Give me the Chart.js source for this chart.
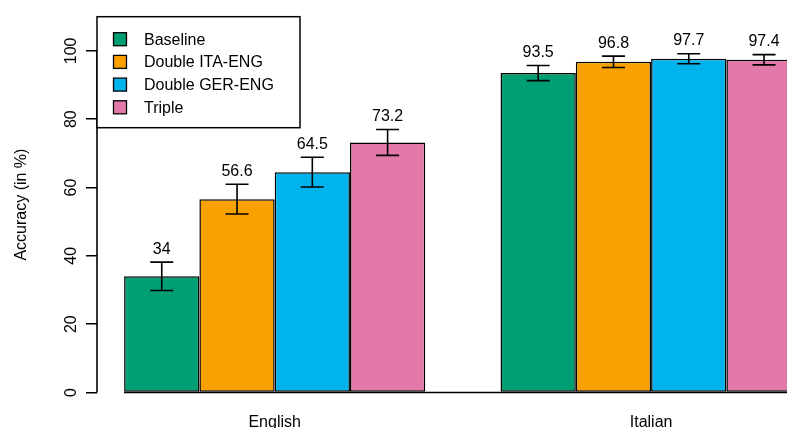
<!DOCTYPE html>
<html>
<head>
<meta charset="utf-8">
<script src="https://cdn.jsdelivr.net/npm/chart.js@4.4.1/dist/chart.umd.min.js"></script>
<style>
  html, body { margin: 0; padding: 0; background: #ffffff; }
  #wrap { width: 787px; height: 428px; }
</style>
</head>
<body>
<div id="wrap"><canvas id="c" width="787" height="428"></canvas></div>
<script>
// Accuracy per language and model, with error margins
const categories = ['English', 'Italian'];
const seriesNames = ['Baseline', 'Double ITA-ENG', 'Double GER-ENG', 'Triple'];
const baseline = [34, 93.5];
const doubleItaEng = [56.6, 96.8];
const doubleGerEng = [64.5, 97.7];
const triple = [73.2, 97.4];
const baselineErr = [4.15, 2.2];
const doubleItaEngErr = [4.35, 1.65];
const doubleGerEngErr = [4.35, 1.45];
const tripleErr = [3.8, 1.5];
const yTicks = [0, 20, 40, 60, 80, 100];
const seriesColors = ['#009E73', '#F9A100', '#00B3EC', '#E279A9'];

const FONT = "'Liberation Sans', Arial, sans-serif";
const seriesValues = [baseline, doubleItaEng, doubleGerEng, triple];
const seriesErrors = [baselineErr, doubleItaEngErr, doubleGerEngErr, tripleErr];

// each group spans four bar slots plus one slot of gap before it
const groupCenter = i => 3 + 5 * i;

const datasets = seriesNames.map((name, s) => ({
  label: name,
  data: categories.map((c, i) => ({ x: groupCenter(i), y: seriesValues[s][i] })),
  errors: seriesErrors[s],
  backgroundColor: seriesColors[s],
  borderColor: '#000000',
  borderWidth: 1.5,
  borderSkipped: false,
  categoryPercentage: 0.8,
  barPercentage: 1.0
}));

const decorations = {
  id: 'decorations',
  afterDatasetsDraw(chart) {
    const ctx = chart.ctx;
    const y = chart.scales.y;
    const area = chart.chartArea;
    ctx.save();
    ctx.strokeStyle = '#000000';
    ctx.fillStyle = '#000000';
    ctx.lineWidth = 1.6;

    // baseline under the bars
    const first = chart.getDatasetMeta(0).data[0];
    const y0 = y.getPixelForValue(0);
    ctx.beginPath();
    ctx.moveTo(first.x - first.width / 2, y0);
    ctx.lineTo(area.right, y0);
    ctx.stroke();

    // error bars and value labels
    ctx.font = '16px ' + FONT;
    ctx.textAlign = 'center';
    ctx.textBaseline = 'alphabetic';
    chart.data.datasets.forEach((ds, s) => {
      const meta = chart.getDatasetMeta(s);
      meta.data.forEach((bar, i) => {
        const v = ds.data[i].y;
        const e = ds.errors[i];
        const yt = y.getPixelForValue(v + e);
        const yb = y.getPixelForValue(v - e);
        const cap = 11.5;
        ctx.beginPath();
        ctx.moveTo(bar.x, yt); ctx.lineTo(bar.x, yb);
        ctx.moveTo(bar.x - cap, yt); ctx.lineTo(bar.x + cap, yt);
        ctx.moveTo(bar.x - cap, yb); ctx.lineTo(bar.x + cap, yb);
        ctx.stroke();
        ctx.fillText(String(v), bar.x, yt - 8.5);
      });
    });

    // y axis line spanning the tick range
    ctx.beginPath();
    ctx.moveTo(area.left, y.getPixelForValue(yTicks[0]));
    ctx.lineTo(area.left, y.getPixelForValue(yTicks[yTicks.length - 1]));
    ctx.stroke();

    // legend box in the top-left corner
    const lx = area.left, ly = area.top;
    ctx.lineWidth = 1.5;
    ctx.fillStyle = '#ffffff';
    ctx.fillRect(lx, ly, 203, 111);
    ctx.strokeRect(lx, ly, 203, 111);
    ctx.textAlign = 'left';
    ctx.textBaseline = 'middle';
    chart.data.datasets.forEach((ds, s) => {
      const cy = ly + 22.5 + 22.7 * s;
      ctx.fillStyle = ds.backgroundColor;
      ctx.fillRect(lx + 16.5, cy - 6.5, 13, 13);
      ctx.lineWidth = 1.3;
      ctx.strokeRect(lx + 16.5, cy - 6.5, 13, 13);
      ctx.fillStyle = '#000000';
      ctx.fillText(ds.label, lx + 47, cy + 1);
    });
    ctx.restore();
  }
};

new Chart(document.getElementById('c'), {
  type: 'bar',
  data: { datasets },
  options: {
    responsive: false,
    animation: false,
    devicePixelRatio: 1,
    layout: { padding: { top: 16.7, left: 0, right: 0, bottom: 0 } },
    plugins: { legend: { display: false }, tooltip: { enabled: false } },
    scales: {
      x: {
        type: 'linear',
        offset: false,
        min: 0.64,
        max: 9.805,
        grid: { display: false },
        border: { display: false },
        afterBuildTicks: s => { s.ticks = categories.map((c, i) => ({ value: groupCenter(i) })); },
        afterFit: s => { s.height = 35.5; },
        ticks: {
          autoSkip: false,
          maxRotation: 0,
          padding: 12,
          color: '#000000',
          font: { family: FONT, size: 16 },
          callback: (v, i) => categories[i]
        }
      },
      y: {
        min: 0,
        max: 110,
        border: { display: false },
        grid: { drawOnChartArea: false, drawTicks: true, tickLength: 11, color: '#000000', lineWidth: 1.5 },
        afterBuildTicks: s => { s.ticks = yTicks.map(v => ({ value: v })); },
        afterFit: s => { s.width = 97; },
        ticks: {
          minRotation: 90,
          maxRotation: 90,
          crossAlign: 'center',
          padding: 1,
          color: '#000000',
          font: { family: FONT, size: 16 }
        },
        title: {
          display: true,
          text: 'Accuracy (in %)',
          color: '#000000',
          font: { family: FONT, size: 16 },
          padding: { top: 12, bottom: 0 }
        }
      }
    }
  },
  plugins: [decorations]
});
</script>
</body>
</html>
